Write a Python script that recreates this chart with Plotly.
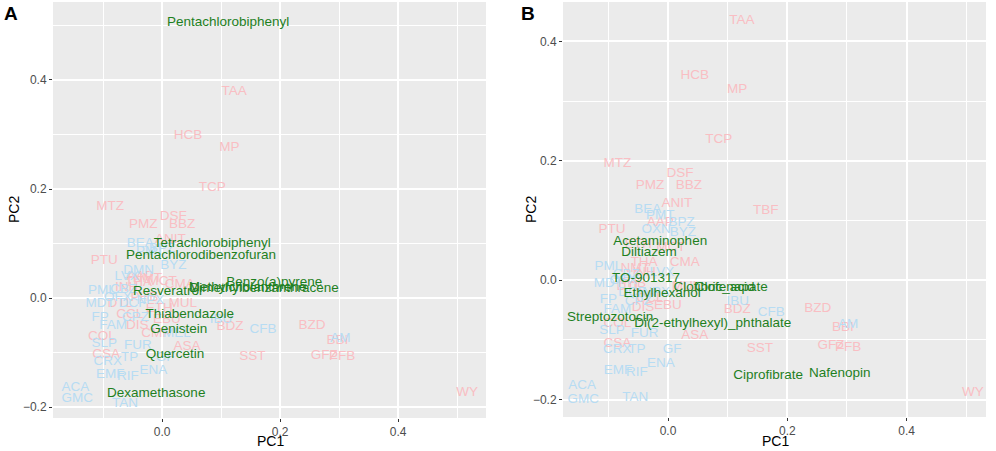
import plotly.graph_objects as go

# ---- panel A: reference compounds (pink = group 1, blue = group 2) ----
a_pink_names = ["TAA", "HCB", "MP", "TCP", "MTZ", "DSF", "PMZ", "BBZ", "ANIT", "PTU",
                "AAP", "THA", "NMT", "INH", "PHB", "MCT", "CMA", "DTL", "MUL", "ETH",
                "CCL", "DIS", "EBU", "CMP", "COL", "ASA", "CSA", "BDZ", "BZD", "BBI",
                "GFZ", "PFB", "SST", "WY"]
a_pink_pc1 = [0.122, 0.044, 0.114, 0.085, -0.088, 0.019, -0.032, 0.034, 0.014, -0.098,
              -0.037, -0.040, -0.025, -0.060, -0.030, 0.000, 0.030, -0.071, 0.035, -0.005,
              -0.055, -0.042, 0.008, -0.010, -0.102, 0.042, -0.095, 0.115, 0.254, 0.297,
              0.275, 0.305, 0.153, 0.517]
a_pink_pc2 = [0.378, 0.297, 0.275, 0.202, 0.167, 0.149, 0.134, 0.134, 0.108, 0.068,
              0.039, 0.028, 0.035, 0.020, 0.000, 0.030, 0.024, -0.011, -0.011, -0.020,
              -0.030, -0.050, -0.040, -0.065, -0.070, -0.090, -0.103, -0.053, -0.050, -0.079,
              -0.106, -0.108, -0.108, -0.174]

a_blue_names = ["BEA", "PMT", "BPZ", "BYZ", "DMN", "LVX", "CBZ", "PML", "OFX", "MDT",
                "DCF", "NPX", "CPZ", "MEL", "FP", "FAM", "SLP", "FUR", "CRX", "TP",
                "GF", "ENA", "EMF", "RIF", "ACA", "GMC", "TAN", "IBU", "CFB", "AM"]
a_blue_pc1 = [-0.037, -0.020, 0.000, 0.019, -0.040, -0.060, -0.065, -0.102, -0.075, -0.105,
              -0.050, -0.020, -0.045, 0.025, -0.105, -0.083, -0.098, -0.041, -0.092, -0.055,
              0.005, -0.015, -0.088, -0.058, -0.147, -0.144, -0.063, 0.100, 0.171, 0.302]
a_blue_pc2 = [0.099, 0.085, 0.090, 0.059, 0.050, 0.040, 0.015, 0.013, 0.000, -0.010,
              -0.010, -0.005, -0.035, -0.065, -0.035, -0.051, -0.084, -0.088, -0.117, -0.110,
              -0.110, -0.134, -0.141, -0.145, -0.165, -0.185, -0.193, -0.040, -0.057, -0.075]

# ---- panel A: test compounds (green) ----
a_test_names = ["Pentachlorobiphenyl", "Tetrachlorobiphenyl", "Pentachlorodibenzofuran",
                "Benzo(a)pyrene", "Methylcholanthrene", "Dimethylbenzanthracene",
                "Resveratrol", "Thiabendazole", "Genistein", "Quercetin", "Dexamethasone"]
a_test_pc1 = [0.112, 0.085, 0.066, 0.190, 0.145, 0.173, 0.009, 0.047, 0.028, 0.022, -0.010]
a_test_pc2 = [0.506, 0.099, 0.077, 0.028, 0.020, 0.017, 0.011, -0.031, -0.057, -0.103, -0.176]

# ---- panel B: reference compounds ----
b_pink_names = ["TAA", "HCB", "MP", "TCP", "MTZ", "DSF", "PMZ", "BBZ", "ANIT", "TBF",
                "AAP", "PTU", "ETH", "MCT", "THA", "NMT", "INH", "CMA", "PHB", "DTL",
                "MUL", "CCL", "EBU", "DIS", "COL", "ASA", "CSA", "BDZ", "BZD", "BBI",
                "GFZ", "PFB", "SST", "WY"]
b_pink_pc1 = [0.124, 0.045, 0.116, 0.085, -0.085, 0.020, -0.030, 0.035, 0.015, 0.164,
              -0.013, -0.094, -0.050, 0.005, -0.040, -0.055, -0.040, 0.028, -0.060, -0.065,
              0.030, -0.030, 0.000, -0.042, -0.085, 0.045, -0.085, 0.116, 0.251, 0.293,
              0.273, 0.302, 0.154, 0.511]
b_pink_pc2 = [0.434, 0.342, 0.320, 0.236, 0.196, 0.178, 0.159, 0.159, 0.129, 0.116,
              0.097, 0.084, 0.060, 0.055, 0.030, 0.020, 0.012, 0.030, -0.005, -0.010,
              -0.010, -0.030, -0.042, -0.045, -0.072, -0.092, -0.106, -0.050, -0.047, -0.080,
              -0.109, -0.112, -0.114, -0.188]

b_blue_names = ["BEA", "PMT", "BPZ", "OXN", "BYZ", "PML", "CBZ", "LVX", "MDT", "OFX",
                "DCF", "NPX", "CPZ", "FP", "FAM", "SLP", "FUR", "CRX", "TP", "GF",
                "ENA", "EMF", "RIF", "ACA", "GMC", "TAN", "IBU", "CFB", "AM"]
b_blue_pc1 = [-0.034, -0.013, 0.023, -0.020, 0.025, -0.100, -0.070, -0.010, -0.100, -0.075,
              -0.060, -0.020, -0.050, -0.100, -0.085, -0.094, -0.039, -0.085, -0.052, 0.007,
              -0.012, -0.084, -0.052, -0.144, -0.142, -0.055, 0.117, 0.173, 0.302]
b_blue_pc2 = [0.119, 0.109, 0.097, 0.085, 0.079, 0.022, 0.010, 0.013, -0.005, 0.000,
              -0.020, -0.020, -0.035, -0.032, -0.050, -0.085, -0.089, -0.117, -0.117, -0.116,
              -0.139, -0.151, -0.154, -0.176, -0.200, -0.196, -0.035, -0.055, -0.074]

b_test_names = ["Acetaminophen", "Diltiazem", "TO-901317", "Clofibric_acid", "Clofenapate",
                "Ethylhexanol", "Streptozotocin", "Di(2-ethylhexyl)_phthalate",
                "Ciprofibrate", "Nafenopin"]
b_test_pc1 = [-0.013, -0.032, -0.037, 0.077, 0.106, -0.010, -0.097, 0.075, 0.168, 0.288]
b_test_pc2 = [0.065, 0.047, 0.003, -0.013, -0.013, -0.023, -0.062, -0.072, -0.159, -0.156]

PINK = "#F9BEC3"
BLUE = "#B7DCF3"
GREEN = "#1E801E"
FONT = "Liberation Sans, Arial, sans-serif"
W, H = 996, 451


def px(x):
    return x / W


def py(y):
    return 1 - y / H


def labels(x, y, names, color, xa, ya):
    return go.Scatter(x=x, y=y, text=names, mode="text", xaxis=xa, yaxis=ya,
                      textposition="middle center", hoverinfo="text", showlegend=False,
                      textfont=dict(family=FONT, size=13.5, color=color))


fig = go.Figure()
fig.add_trace(labels(a_pink_pc1, a_pink_pc2, a_pink_names, PINK, "x", "y"))
fig.add_trace(labels(a_blue_pc1, a_blue_pc2, a_blue_names, BLUE, "x", "y"))
fig.add_trace(labels(a_test_pc1, a_test_pc2, a_test_names, GREEN, "x", "y"))
fig.add_trace(labels(b_pink_pc1, b_pink_pc2, b_pink_names, PINK, "x2", "y2"))
fig.add_trace(labels(b_blue_pc1, b_blue_pc2, b_blue_names, BLUE, "x2", "y2"))
fig.add_trace(labels(b_test_pc1, b_test_pc2, b_test_names, GREEN, "x2", "y2"))

axis_style = dict(
    showgrid=True, gridcolor="white", gridwidth=1.6, zeroline=False, automargin=False,
    showline=False, ticks="outside", ticklen=3, tickcolor="#333333", tickwidth=1,
    tickformat=".1f", dtick=0.2, tick0=0,
    tickfont=dict(family=FONT, size=12, color="#4D4D4D"),
    minor=dict(showgrid=True, gridcolor="white", gridwidth=0.7, dtick=0.1, tick0=0),
)

fig.update_layout(
    width=W, height=H,
    margin=dict(l=0, r=0, t=0, b=0),
    paper_bgcolor="white",
    plot_bgcolor="#EBEBEB",
    font=dict(family=FONT),
    xaxis=dict(axis_style, domain=[px(53), px(486)], range=[-0.185, 0.549], anchor="y"),
    yaxis=dict(axis_style, domain=[py(418), py(2)], range=[-0.22, 0.543], anchor="x"),
    xaxis2=dict(axis_style, domain=[px(563), px(986)], range=[-0.176, 0.533], anchor="y2"),
    yaxis2=dict(axis_style, domain=[py(417), py(2)], range=[-0.229, 0.466], anchor="x2"),
)

annots = [
    ("A", 11, 14, 19, True, 0),
    ("B", 528, 14, 19, True, 0),
    ("PC1", 270, 441, 14, False, 0),
    ("PC1", 775, 441, 14, False, 0),
    ("PC2", 14, 210, 14, False, -90),
    ("PC2", 531, 210, 14, False, -90),
]
for txt, x, y, size, bold, ang in annots:
    fig.add_annotation(
        text=f"<b>{txt}</b>" if bold else txt,
        x=px(x), y=py(y), xref="paper", yref="paper",
        xanchor="center", yanchor="middle",
        showarrow=False, textangle=ang,
        font=dict(family=FONT, size=size, color="black"),
    )

# drop the browser's default page margin so the figure sits at the window corner
fig.write_html("out.html", config={"displayModeBar": False},
               post_script="document.body.style.margin='0';")
